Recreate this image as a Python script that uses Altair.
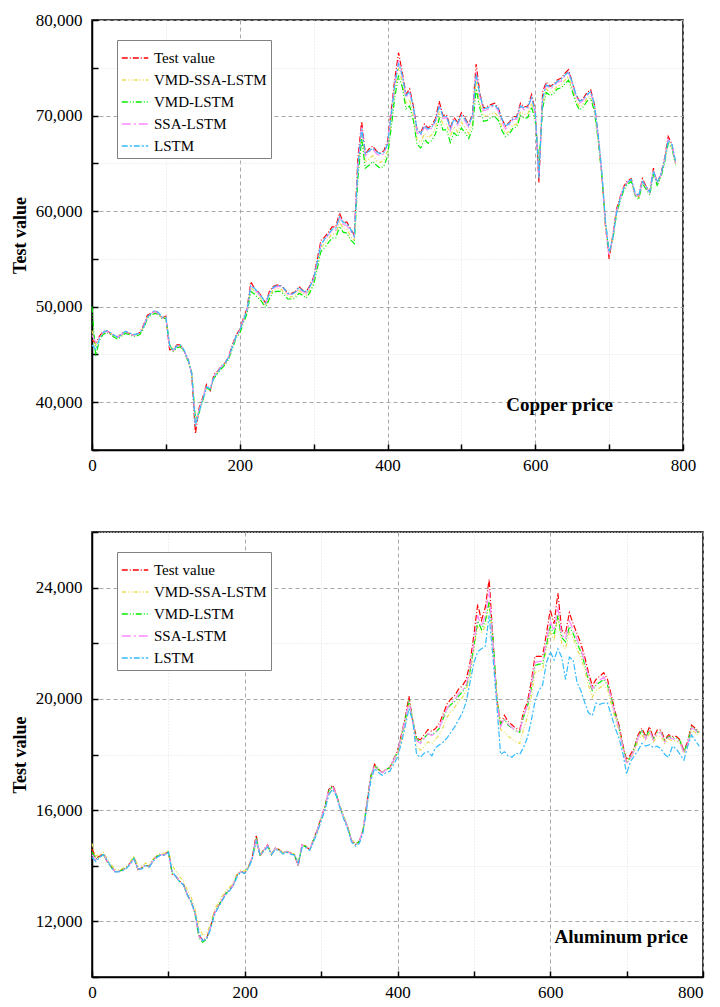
import altair as alt
import pandas as pd

SERIES = ["Test value", "VMD-SSA-LSTM", "VMD-LSTM", "SSA-LSTM", "LSTM"]
COLORS = ["#FF0000", "#E8DC50", "#00EE00", "#FF88FF", "#33BBFF"]
DASHES = [[6, 2, 1, 2], [4, 2, 1, 2, 1, 2], [6, 2, 1, 2, 1, 2], [9, 3, 2, 3], [6, 2, 2, 2]]

# ---------------- Copper (x = 0..790, step 5) ----------------
CU_X = list(range(0, 795, 5))
CU_TEST = [
    46500, 46200, 46900, 47400, 47500, 47200, 47000, 46800, 47200, 47400,
    47200, 47050, 47100, 47300, 48100, 49100, 49300, 49550, 49300, 48800,
    49000, 45500, 45500, 46000, 46000, 45300, 44500, 42900, 36700, 39400,
    40500, 41850, 41200, 42900, 43250, 43750, 44100, 44800, 46000, 47050,
    47600, 48800, 49850, 52600, 51900, 51550, 51050, 50350, 51550, 52100,
    52250, 52250, 51900, 51400, 51400, 51550, 52100, 51750, 51550, 52250,
    53100, 55000, 56950, 57300, 57800, 58350, 58350, 59800, 58850, 58850,
    58150, 57500, 65600, 69400, 66000, 66500, 66800, 66300, 66100, 66300,
    67300, 70500, 73900, 76600, 74500, 72200, 72800, 71000, 68500, 68200,
    69100, 68700, 69000, 69700, 71500, 70000, 70100, 68700, 69800, 69300,
    70300, 69750, 69050, 70200, 75400, 72300, 70800, 70950, 71150, 71300,
    70800, 69600, 68900, 69300, 69900, 69900, 71300, 70900, 71000, 72200,
    70500, 63000, 72500, 73500, 73050, 73300, 73750, 73900, 74400, 74800,
    73500, 72200, 71500, 71800, 72400, 72700, 71200, 68000, 64000, 58500,
    55000, 57500, 60200, 61500, 62600, 63200, 63400, 61800, 61500, 63400,
    62600, 62000, 64500, 62900, 63900, 65500, 67800, 67000, 65000,
]
CU_VMD_SSA = [
    47500, 46000, 46700, 47200, 47400, 47200, 46900, 46800, 47000, 47300,
    47200, 47000, 47000, 47200, 47900, 48900, 49200, 49400, 49300, 48800,
    48900, 46200, 45400, 45800, 45900, 45300, 44400, 43000, 38000, 39100,
    40300, 41600, 41400, 42600, 43100, 43600, 44000, 44600, 45800, 46900,
    47400, 48500, 49600, 52000, 51600, 51200, 50700, 50100, 51100, 51700,
    51900, 51900, 51500, 51100, 51000, 51200, 51700, 51400, 51200, 51800,
    52600, 54400, 56200, 56600, 57100, 57600, 57600, 58900, 58200, 58100,
    57400, 56900, 64200, 68200, 65100, 65500, 65800, 65300, 65100, 65300,
    66300, 69300, 72700, 75000, 73500, 71200, 71700, 70000, 67500, 67200,
    68100, 67700, 68000, 68700, 70400, 69000, 69100, 67800, 68800, 68300,
    69300, 68800, 68100, 69200, 73800, 71300, 69900, 70000, 70200, 70300,
    69900, 68800, 68100, 68400, 69000, 69100, 70400, 70100, 70200, 71300,
    69800, 64500, 71300, 72800, 72400, 72600, 73100, 73200, 73700, 74100,
    72900, 71600, 70900, 71200, 71800, 72100, 70700, 67600, 63900, 58800,
    55500, 57200, 59900, 61300, 62400, 63000, 63200, 61800, 61400, 63100,
    62400, 61900, 64200, 62800, 63700, 65200, 67400, 66800, 64900,
]
CU_VMD = [
    50000, 44800, 46500, 47100, 47300, 47100, 46800, 46600, 46900, 47200,
    47100, 46900, 46900, 47100, 47700, 48800, 49100, 49300, 49200, 48700,
    48800, 46000, 45300, 45700, 45800, 45200, 44300, 43100, 38200, 38900,
    40200, 41500, 41300, 42500, 43000, 43500, 43900, 44500, 45600, 46700,
    47200, 48300, 49300, 51600, 51300, 50900, 50500, 49900, 50800, 51500,
    51600, 51600, 51300, 50800, 50800, 50900, 51400, 51200, 50900, 51500,
    52300, 54000, 55800, 56200, 56700, 57200, 57200, 58400, 57800, 57700,
    57000, 56600, 63500, 67600, 64500, 64800, 65200, 64800, 64500, 64700,
    65700, 68700, 72000, 74200, 73000, 70700, 71000, 69500, 67000, 66600,
    67500, 67100, 67400, 68100, 69700, 68500, 68500, 67200, 68200, 67800,
    68700, 68200, 67600, 68600, 72800, 70800, 69400, 69500, 69800, 69900,
    69500, 68400, 67800, 68100, 68700, 68800, 70000, 69700, 69800, 70900,
    69500, 65000, 70800, 72400, 72100, 72300, 72800, 72900, 73300, 73700,
    72600, 71300, 70600, 70900, 71500, 71800, 70500, 67500, 63800, 58800,
    55600, 57000, 59700, 61100, 62200, 62800, 63100, 61700, 61200, 62900,
    62300, 61700, 63900, 62700, 63500, 65000, 67100, 66600, 64800,
]
CU_SSA = [
    47000, 46300, 46800, 47300, 47400, 47200, 47000, 46800, 47100, 47300,
    47200, 47000, 47100, 47200, 48000, 49000, 49200, 49500, 49300, 48800,
    48900, 45800, 45400, 45900, 45900, 45300, 44400, 43000, 37800, 39200,
    40400, 41700, 41400, 42700, 43200, 43700, 44000, 44700, 45900, 46900,
    47500, 48600, 49700, 52300, 51800, 51400, 50900, 50300, 51400, 51900,
    52100, 52100, 51800, 51300, 51300, 51400, 51900, 51600, 51400, 52100,
    52900, 54700, 56600, 57000, 57500, 58000, 58000, 59400, 58600, 58500,
    57900, 57300, 64900, 68900, 65800, 66200, 66500, 66000, 65800, 66000,
    67000, 70100, 73400, 75800, 74100, 71900, 72400, 70700, 68200, 67900,
    68800, 68400, 68700, 69400, 71100, 69700, 69800, 68400, 69500, 69000,
    70000, 69400, 68800, 69900, 74600, 72000, 70500, 70600, 70900, 71000,
    70500, 69300, 68600, 69000, 69600, 69600, 71000, 70600, 70700, 71900,
    70200, 63800, 72000, 73200, 72800, 73000, 73500, 73600, 74100, 74500,
    73300, 72000, 71300, 71600, 72100, 72400, 71000, 67900, 64000, 58700,
    55300, 57300, 60000, 61400, 62500, 63100, 63300, 61800, 61400, 63200,
    62500, 61900, 64300, 62900, 63800, 65300, 67500, 66900, 65000,
]
CU_LSTM = [
    46000, 45500, 46600, 47300, 47500, 47300, 47000, 46800, 47100, 47400,
    47300, 47100, 47100, 47300, 47900, 48900, 49300, 49600, 49400, 48900,
    48900, 46000, 45400, 45900, 46000, 45400, 44500, 43000, 37500, 39000,
    40300, 41600, 41400, 42600, 43100, 43700, 44100, 44700, 45800, 46900,
    47500, 48600, 49700, 52200, 51900, 51500, 51000, 50400, 51300, 52000,
    52200, 52200, 51900, 51400, 51300, 51500, 52000, 51700, 51500, 52100,
    52900, 54700, 56500, 57100, 57600, 58100, 58200, 59400, 58800, 58700,
    58100, 57400, 64600, 68600, 66000, 66300, 66600, 66200, 66000, 66100,
    67000, 70000, 73300, 75500, 74200, 72100, 72500, 70900, 68500, 68100,
    68900, 68600, 68800, 69500, 71000, 69900, 69900, 68700, 69600, 69200,
    70000, 69600, 69000, 70000, 74300, 72200, 70700, 70800, 71000, 71100,
    70700, 69600, 68900, 69200, 69700, 69800, 71000, 70800, 70900, 71900,
    70400, 63500, 71800, 73200, 73000, 73200, 73600, 73800, 74200, 74600,
    73500, 72200, 71500, 71700, 72200, 72500, 71200, 68200, 64300, 59000,
    55700, 57200, 59800, 61300, 62400, 63000, 63300, 62000, 61600, 63100,
    62600, 62000, 64200, 63000, 63800, 65300, 67400, 67000, 65200,
]

# ---------------- Aluminum (x = 0..795, step 5) ----------------
AL_X = list(range(0, 800, 5))
AL_TEST = [
    14600, 14280, 14340, 14430, 14150, 13970, 13800, 13800, 13860, 13920,
    14100, 14300, 13860, 13920, 14040, 13970, 14220, 14340, 14400, 14400,
    14520, 13700, 13620, 13440, 13320, 12950, 12710, 12290, 11500, 11330,
    11380, 11800, 12290, 12530, 12770, 13010, 13130, 13320, 13680, 13800,
    13740, 13970, 14340, 15100, 14340, 14580, 14750, 14400, 14640, 14580,
    14460, 14520, 14460, 14400, 14000, 14760, 14700, 14580, 14940, 15300,
    15720, 16140, 16740, 16900, 16570, 16090, 15720, 15360, 14880, 14760,
    14880, 15300, 16270, 17230, 17650, 17470, 17350, 17470, 17530, 17830,
    18130, 18700, 19300, 20100, 19180, 18590, 18530, 18710, 18900, 18830,
    18940, 19120, 19470, 19820, 20000, 20120, 20350, 20470, 20700, 21300,
    22300, 23400, 22820, 23300, 24300, 22120, 20000, 19060, 19410, 19180,
    19060, 18940, 18880, 19530, 19880, 20590, 21530, 21530, 21530, 22350,
    23200, 22700, 23800, 22470, 22350, 23100, 22700, 22350, 22000, 21530,
    20940, 20470, 20700, 20820, 20940, 20700, 20120, 19530, 19060, 18350,
    17800, 18000, 18240, 18710, 18940, 18650, 19000, 18590, 18880, 18880,
    18530, 18710, 18650, 18650, 18530, 18120, 18470, 19060, 18940, 18800,
]
AL_VMD_SSA = [
    14800, 14350, 14400, 14480, 14250, 14050, 13880, 13850, 13900, 13980,
    14150, 14350, 14000, 13980, 14100, 14050, 14250, 14380, 14450, 14450,
    14550, 14000, 13800, 13600, 13450, 13100, 12850, 12450, 11800, 11500,
    11550, 11900, 12400, 12650, 12880, 13100, 13220, 13400, 13720, 13850,
    13800, 14000, 14300, 14800, 14450, 14560, 14700, 14450, 14620, 14580,
    14480, 14520, 14470, 14420, 14150, 14700, 14700, 14600, 14900, 15250,
    15650, 16050, 16600, 16750, 16550, 16150, 15750, 15400, 14950, 14800,
    14900, 15250, 16150, 17100, 17550, 17450, 17350, 17450, 17500, 17750,
    18050, 18550, 19100, 19800, 19300, 18300, 18150, 18300, 18450, 18400,
    18550, 18700, 19000, 19350, 19550, 19700, 19900, 20050, 20300, 20850,
    21800, 22600, 22400, 22600, 23500, 22000, 20200, 18900, 18800, 18650,
    18550, 18450, 18400, 18900, 19350, 20050, 20950, 21000, 21050, 21800,
    22400, 22100, 23000, 22000, 21800, 22400, 22200, 21800, 21500, 21050,
    20500, 20050, 20300, 20400, 20500, 20350, 19800, 19300, 18850, 18250,
    17700, 17850, 18100, 18500, 18700, 18500, 18750, 18450, 18650, 18650,
    18400, 18550, 18500, 18500, 18400, 18050, 18350, 18850, 18800, 18650,
]
AL_VMD = [
    14500, 14250, 14320, 14400, 14150, 13950, 13790, 13800, 13850, 13920,
    14080, 14280, 13880, 13900, 14030, 13960, 14200, 14330, 14400, 14400,
    14500, 13750, 13600, 13430, 13300, 12930, 12690, 12270, 11400, 11250,
    11350, 11780, 12270, 12520, 12760, 13000, 13120, 13300, 13660, 13790,
    13730, 13950, 14300, 15000, 14380, 14560, 14720, 14400, 14620, 14570,
    14450, 14510, 14450, 14400, 14050, 14730, 14690, 14580, 14920, 15280,
    15700, 16100, 16700, 16850, 16560, 16100, 15720, 15370, 14890, 14760,
    14880, 15280, 16240, 17200, 17620, 17460, 17350, 17460, 17520, 17810,
    18100, 18650, 19250, 19950, 19250, 18550, 18450, 18600, 18750, 18700,
    18800, 18950, 19300, 19650, 19800, 19900, 20100, 20250, 20450, 21000,
    21900, 22800, 22500, 22800, 23500, 22200, 20100, 19100, 19250, 19050,
    18950, 18850, 18800, 19350, 19700, 20350, 21200, 21250, 21250, 21950,
    22600, 22300, 23000, 22200, 22050, 22600, 22350, 22000, 21700, 21250,
    20700, 20300, 20500, 20600, 20700, 20500, 20000, 19450, 19000, 18300,
    17700, 17900, 18200, 18650, 18850, 18600, 18900, 18550, 18800, 18800,
    18480, 18650, 18600, 18600, 18480, 18100, 18420, 18980, 18900, 18750,
]
AL_SSA = [
    14400, 14200, 14300, 14420, 14170, 13960, 13790, 13790, 13850, 13910,
    14080, 14270, 13880, 13910, 14030, 13960, 14200, 14330, 14390, 14390,
    14500, 13750, 13610, 13430, 13310, 12940, 12700, 12280, 11450, 11300,
    11370, 11780, 12270, 12520, 12760, 13000, 13120, 13310, 13660, 13790,
    13730, 13960, 14310, 15000, 14380, 14570, 14730, 14400, 14630, 14570,
    14450, 14510, 14450, 14390, 14050, 14740, 14690, 14570, 14920, 15280,
    15700, 16110, 16700, 16850, 16560, 16090, 15720, 15360, 14890, 14760,
    14870, 15280, 16230, 17180, 17600, 17450, 17340, 17450, 17510, 17800,
    18100, 18650, 19250, 19900, 19200, 18500, 18400, 18580, 18750, 18680,
    18800, 18980, 19330, 19680, 19850, 19970, 20200, 20300, 20520, 21100,
    22000, 23000, 22600, 23000, 23900, 22000, 20000, 19000, 19300, 19080,
    18960, 18850, 18800, 19400, 19750, 20400, 21300, 21350, 21350, 22100,
    22800, 22450, 23300, 22300, 22150, 22800, 22500, 22150, 21800, 21350,
    20800, 20350, 20550, 20680, 20780, 20560, 20000, 19420, 18950, 18280,
    17650, 17880, 18150, 18600, 18830, 18560, 18880, 18520, 18780, 18790,
    18450, 18620, 18560, 18560, 18450, 18050, 18380, 18950, 18880, 18720,
]
AL_LSTM = [
    14300, 14150, 14300, 14400, 14200, 13950, 13780, 13780, 13820, 13900,
    14050, 14250, 13900, 13880, 14000, 13950, 14150, 14300, 14380, 14380,
    14480, 13800, 13600, 13420, 13300, 12950, 12700, 12300, 11600, 11300,
    11350, 11700, 12200, 12480, 12720, 12960, 13100, 13280, 13600, 13780,
    13720, 13920, 14250, 14900, 14400, 14520, 14680, 14400, 14580, 14550,
    14420, 14480, 14420, 14380, 14100, 14650, 14650, 14550, 14850, 15200,
    15600, 16000, 16550, 16750, 16500, 16050, 15650, 15300, 14850, 14700,
    14800, 15200, 16100, 17050, 17500, 17350, 17250, 17350, 17400, 17650,
    17900, 18400, 19000, 19650, 19200, 18000, 17900, 18050, 18100, 17950,
    18250, 18350, 18450, 18600, 18800, 19000, 19250, 19500, 19900, 20600,
    21300, 21700, 21800, 21900, 23000, 21500, 19800, 18000, 18100, 17950,
    17900, 18050, 18000, 18250, 18600, 19200, 19900, 20300, 20500, 21300,
    21700, 21400, 21800, 21500, 20700, 21500, 21400, 20600, 20300, 19880,
    19500, 19400, 19850, 19800, 19850, 19850, 19400, 18950, 18600, 18050,
    17300, 17750, 17950, 18150, 18400, 18300, 18350, 18250, 18300, 18200,
    18000, 17900, 18300, 18200, 18000, 17800, 18300, 18700, 18500, 18300,
]

X_TICKS = [0, 100, 200, 300, 400, 500, 600, 700, 800]
CU_Y_TICKS = [35000, 40000, 45000, 50000, 55000, 60000, 65000, 70000, 75000, 80000]
AL_Y_TICKS = [10000, 12000, 14000, 16000, 18000, 20000, 22000, 24000, 26000]

FONT = "Liberation Serif"


def long_frame(xs, arrays):
    rows = []
    for name, vals in zip(SERIES, arrays):
        for x, v in zip(xs, vals):
            rows.append({"x": x, "value": v, "series": name})
    return pd.DataFrame(rows)


def make_axis_x(flush_last):
    test = "datum.value % 200 === 0"
    extra = {}
    if flush_last:
        extra["labelAlign"] = {"condition": {"test": "datum.value === 800", "value": "right"},
                               "value": "center"}
    return alt.Axis(
        values=X_TICKS, title=None,
        labelExpr=f"{test} ? format(datum.value, 'd') : ''",
        labelFont=FONT, labelFontSize=17, labelColor="black",
        labelFlush=False, labelOverlap=False, labelPadding=13,
        domainColor="black", domainWidth=1.5,
        tickColor="black", tickWidth=1.5, tickSize={"expr": "-6"},
        grid=True,
        gridColor={"condition": {"test": test, "value": "#a8a8a8"}, "value": "#e0e0e0"},
        gridDash={"condition": {"test": test, "value": [4, 3]}, "value": [1, 2]},
        gridWidth=1,
        **extra,
    )


def make_axis_y(ticks, mod):
    test = f"datum.value % {mod} === 0"
    return alt.Axis(
        values=ticks, title="Test value",
        titleFont=FONT, titleFontSize=18, titleFontWeight="bold", titleColor="black",
        titlePadding=6,
        labelExpr=f"{test} ? format(datum.value, ',') : ''",
        labelFont=FONT, labelFontSize=17, labelColor="black",
        labelOverlap=False, labelPadding=16,
        domainColor="black", domainWidth=1.5,
        tickColor="black", tickWidth=1.5, tickSize={"expr": "-6"},
        grid=True,
        gridColor={"condition": {"test": test, "value": "#a8a8a8"}, "value": "#e0e0e0"},
        gridDash={"condition": {"test": test, "value": [4, 3]}, "value": [1, 2]},
        gridWidth=1,
    )


def make_legend():
    return alt.Legend(
        orient="none", legendX=25, legendY=20,
        symbolType="stroke", symbolSize=700, symbolStrokeWidth=1.5,
        labelFont=FONT, labelFontSize=15, labelColor="black", labelOffset=5,
        strokeColor="#808080", fillColor="white", padding=4, rowPadding=0,
    )


def panel(xs, arrays, ticks, mod, domain, label, lx, ly, w, h, flush_last):
    df = long_frame(xs, arrays)
    lines = alt.Chart(df).mark_line(strokeWidth=1.2).encode(
        x=alt.X("x:Q", scale=alt.Scale(domain=[0, 800], nice=False), axis=make_axis_x(flush_last)),
        y=alt.Y("value:Q", scale=alt.Scale(domain=domain, nice=False, zero=False),
                axis=make_axis_y(ticks, mod)),
        color=alt.Color("series:N", title=None,
                        scale=alt.Scale(domain=SERIES, range=COLORS), legend=make_legend()),
        strokeDash=alt.StrokeDash("series:N", title=None,
                                  scale=alt.Scale(domain=SERIES, range=DASHES), legend=make_legend()),
        detail="series:N",
    )
    txt = alt.Chart(pd.DataFrame({"label": [label]})).mark_text(
        font=FONT, fontSize=19, fontWeight="bold", color="black",
        align="right", baseline="middle",
    ).encode(text="label:N", x=alt.value(lx), y=alt.value(ly))
    return alt.layer(lines, txt).properties(width=w, height=h)


top = panel(CU_X, [CU_TEST, CU_VMD_SSA, CU_VMD, CU_SSA, CU_LSTM],
            CU_Y_TICKS, 10000, [35000, 80000], "Copper price", 521, 385, 591, 430, False)
bottom = panel(AL_X, [AL_TEST, AL_VMD_SSA, AL_VMD, AL_SSA, AL_LSTM],
               AL_Y_TICKS, 4000, [10000, 26000], "Aluminum price", 596, 405, 611, 445, True)

chart = alt.vconcat(top, bottom, spacing=48).resolve_scale(
    x="independent", y="independent", color="independent", strokeDash="independent"
).resolve_legend(color="independent", strokeDash="independent").properties(
    padding={"left": 2, "top": 2, "right": 0, "bottom": 0}
).configure_view(stroke="black", strokeWidth=1.5)

chart.save("out.html", embed_options={"renderer": "svg", "actions": False})
